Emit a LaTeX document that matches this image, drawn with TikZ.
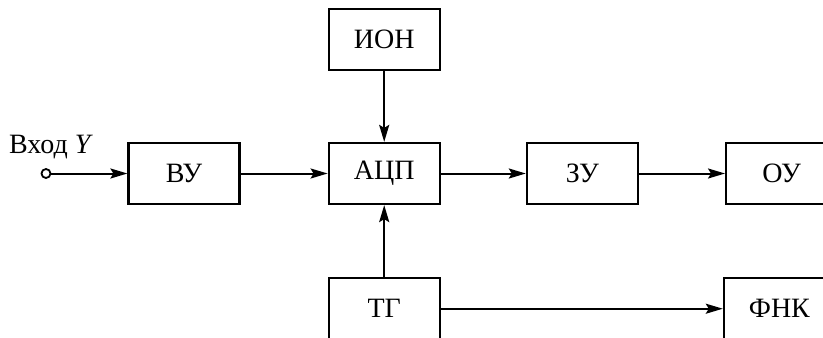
\documentclass[tikz,border=0pt]{standalone}
\usepackage{fontspec}
\setmainfont{Liberation Serif}
\usetikzlibrary{arrows.meta,positioning}

\begin{document}
\begin{tikzpicture}[
  node distance=35.5pt and 43.5pt,
  block/.style={draw, line width=1.1pt, minimum width=55.5pt, minimum height=30.5pt,
                inner sep=0pt, font=\fontsize{14}{16}\selectfont},
  terminal/.style={draw, circle, line width=0.9pt, minimum size=4.5pt, inner sep=0pt},
  label/.style={font=\fontsize{14}{16}\selectfont},
  arrow/.style={-{Stealth[length=8.5pt,width=5pt,inset=1.5pt]}, line width=1pt}
]
\useasboundingbox (-92pt,-81.75pt) rectangle (319.5pt,86.75pt);
\clip (-92pt,-81.75pt) rectangle (319.5pt,86.75pt);

\node[block] (vu) {ВУ};
\node[block, right=of vu] (acp) {АЦП};
\node[block, right=42.5pt of acp] (zu) {ЗУ};
\node[block, right=43pt of zu] (ou) {ОУ};
\node[block, above=of acp] (ion) {ИОН};
\node[block, below=36pt of acp] (tg) {ТГ};
\node[block, right=141pt of tg] (fnk) {ФНК};

\node[terminal, left=38pt of vu] (in) {};
\node[label, above=1pt of in, xshift=2.5pt] {Вход \textit{Y}};

\draw[arrow] (in) -- (vu);
\draw[arrow] (vu) -- (acp);
\draw[arrow] (acp) -- (zu);
\draw[arrow] (zu) -- (ou);
\draw[arrow] (ion) -- (acp);
\draw[arrow] (tg) -- (acp);
\draw[arrow] (tg) -- (fnk);
\end{tikzpicture}
\end{document}
